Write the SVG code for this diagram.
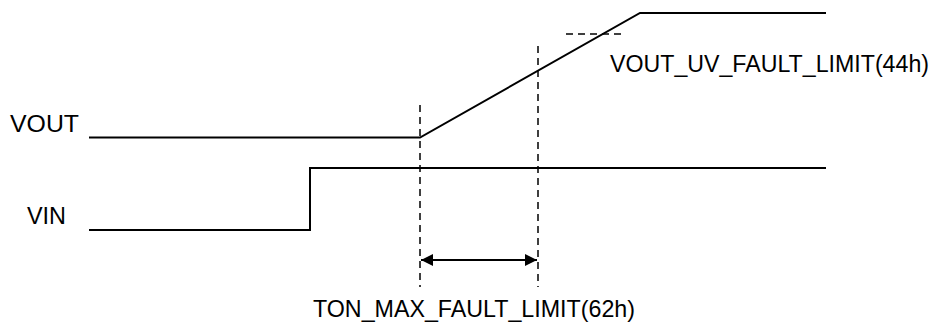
<svg xmlns="http://www.w3.org/2000/svg" width="936" height="323" viewBox="0 0 936 323">
<style>
.sig{fill:none;stroke:#000;stroke-width:2}
.dash{fill:none;stroke:#000;stroke-width:1.5;stroke-dasharray:7 5}
.lbl{font-family:"Liberation Sans","Noto Sans CJK JP",sans-serif;font-size:24px;fill:#000}
</style>
<defs>
<marker id="ah" viewBox="0 0 10 10" refX="10" refY="5" markerWidth="14" markerHeight="12" markerUnits="userSpaceOnUse" orient="auto-start-reverse">
<path d="M0,0 L10,5 L0,10 z" fill="#000"/>
</marker>
</defs>
<rect width="936" height="323" fill="#fff"/>
<g id="vout">
<text class="lbl" x="10" y="132" textLength="69" lengthAdjust="spacingAndGlyphs">VOUT</text>
<polyline class="sig" points="89,137.5 420,137.5 640,13 826,13"/>
</g>
<g id="vin">
<text class="lbl" x="27" y="224" textLength="39" lengthAdjust="spacingAndGlyphs">VIN</text>
<polyline class="sig" points="89,230 310,230 310,168 826,168"/>
</g>
<g id="uv-limit">
<line class="dash" x1="566" y1="34" x2="622" y2="34"/>
<text class="lbl" x="610" y="72" font-size="23" style="font-size:23px" textLength="319" lengthAdjust="spacingAndGlyphs">VOUT_UV_FAULT_LIMIT(44h)</text>
</g>
<g id="ton-limit">
<text class="lbl" x="313" y="317" textLength="322" lengthAdjust="spacingAndGlyphs">TON_MAX_FAULT_LIMIT(62h)</text>
</g>
<g id="connectors">
<line class="dash" x1="420" y1="105" x2="420" y2="287"/>
<line class="dash" x1="538" y1="46" x2="538" y2="287"/>
<line x1="421" y1="260" x2="537" y2="260" stroke="#000" stroke-width="2" marker-start="url(#ah)" marker-end="url(#ah)"/>
</g>
</svg>
